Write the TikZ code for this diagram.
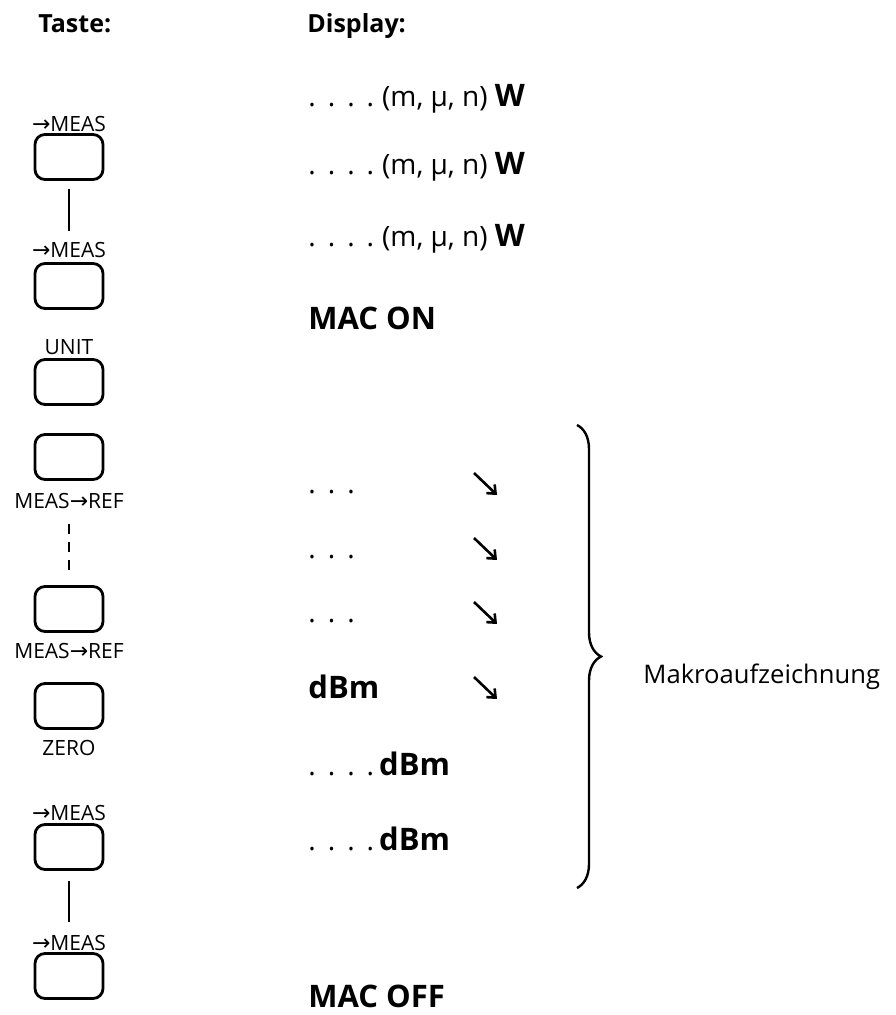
\documentclass[tikz,border=0pt]{standalone}
\usepackage{fontspec}
\setmainfont{Open Sans}
\newfontfamily\symfont{DejaVu Sans}
\usepackage{tikz}
\usetikzlibrary{arrows.meta,positioning,decorations.pathreplacing}
\tikzset{knopf/.style={draw=black,line width=1.4pt,rounded corners=5pt,
 minimum width=34pt,minimum height=22.5pt,inner sep=0pt},
 klbl/.style={font=\fontsize{10.5}{12}\selectfont,inner sep=0pt,anchor=base},
 disp/.style={font=\fontsize{14}{17}\selectfont,inner sep=0pt,anchor=base west},
 head/.style={font=\fontsize{12.5}{15}\selectfont\bfseries,inner sep=0pt,anchor=base west},
 verb/.style={line width=1.4pt},
 diag/.style={-{Straight Barb[length=3.5pt,width=6pt]},line width=1.3pt}}
\newcommand\kpfeil{{\symfont\fontsize{11}{12}\selectfont →}}
\newcommand\fett[1]{{\fontsize{15.5}{17}\selectfont\bfseries #1}}
\newcommand\dreipkt{.\kern6pt.\kern6pt.}
\newcommand\vierpkt{.\kern6pt.\kern6pt.\kern6pt.}

\begin{document}
\begin{tikzpicture}[x=0.5pt,y=-0.5pt]
\useasboundingbox (0,0) rectangle (895,1015);
% Kopfzeile
\node[head] (taste) at (38,33) {Taste:};
\node[head] (display) at (307,33) {Display:};
% Tasten
\node[knopf] (t1) at (69,157) {};
\node[klbl] (l1) at (69,132) {\kpfeil MEAS};
\node[knopf] (t2) at (69,286) {};
\node[klbl] (l2) at (69,258) {\kpfeil MEAS};
\node[knopf] (t3) at (69,382) {};
\node[klbl] (l3) at (69,355) {UNIT};
\node[knopf] (t4) at (69,457) {};
\node[klbl] (l4) at (69,508) {MEAS\kpfeil REF};
\node[knopf] (t5) at (69,609) {};
\node[klbl] (l5) at (69,658) {MEAS\kpfeil REF};
\node[knopf] (t6) at (69,706) {};
\node[klbl] (l6) at (69,755) {ZERO};
\node[knopf] (t7) at (69,847) {};
\node[klbl] (l7) at (69,820) {\kpfeil MEAS};
\node[knopf] (t8) at (69,976) {};
\node[klbl] (l8) at (69,950) {\kpfeil MEAS};
\draw[verb,shorten <=4pt,shorten >=5.5pt] (t1) -- (l2);
\draw[verb,dash pattern=on 5pt off 4pt,shorten <=7.5pt,shorten >=5pt] (l4) -- (t5);
\draw[verb,shorten <=5pt,shorten >=6pt] (t7) -- (l8);
% Anzeige
\node[disp] (d1) at (308,107) {\vierpkt\kern4pt(m, µ, n) \fett{W}};
\node[disp] (d2) at (308,175) {\vierpkt\kern4pt(m, µ, n) \fett{W}};
\node[disp] (d3) at (308,247) {\vierpkt\kern4pt(m, µ, n) \fett{W}};
\node[disp] (macon) at (308,330) {\fett{MAC ON}};
\node[disp] (d4) at (308,493) {\dreipkt};
\node[disp] (d5) at (308,558) {\dreipkt};
\node[disp] (d6) at (308,622) {\dreipkt};
\node[disp] (d7) at (308,698) {\fett{dBm}};
\node[disp] (d8) at (308,775) {\vierpkt\kern2.5pt\fett{dBm}};
\node[disp] (d9) at (308,850) {\vierpkt\kern2.5pt\fett{dBm}};
\node[disp] (macoff) at (308,1007) {\fett{MAC OFF}};
\foreach \y in {473,538,602,677}{\draw[diag] (474,\y) -- ++(23,22);}
% Klammer
\coordinate (kl-o) at (577,425);
\coordinate (kl-u) at (577,888);
\draw[decorate,decoration={brace,amplitude=12pt},line width=1.2pt] (kl-o) -- (kl-u);
\node[disp,font=\fontsize{12.8}{15}\selectfont] (makro) at (643,683) {Makroaufzeichnung};
\end{tikzpicture}
\end{document}
